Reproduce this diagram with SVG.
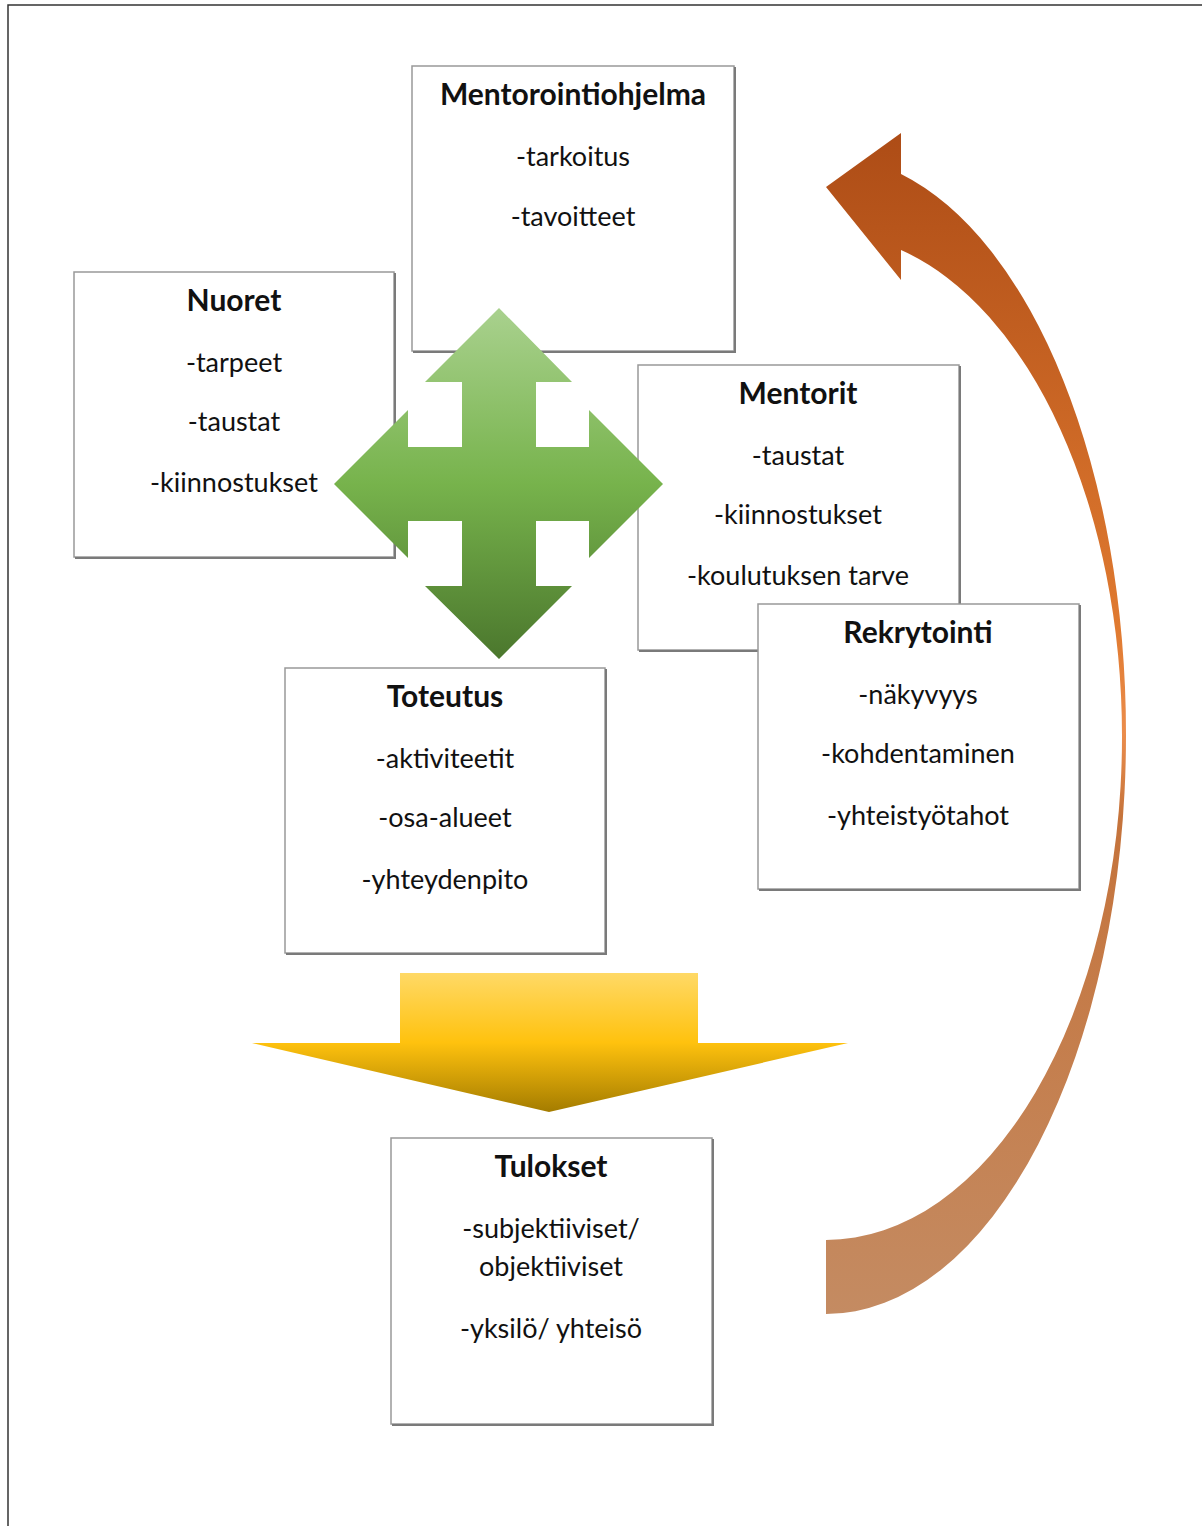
<svg xmlns="http://www.w3.org/2000/svg" width="1202" height="1526" viewBox="0 0 1202 1526">
<defs>
<linearGradient id="gGreen" x1="0" y1="0" x2="0" y2="1">
<stop offset="0" stop-color="#a9d18e"/>
<stop offset="0.5" stop-color="#77b34c"/>
<stop offset="1" stop-color="#4b772d"/>
</linearGradient>
<linearGradient id="gYellow" x1="0" y1="0" x2="0" y2="1">
<stop offset="0" stop-color="#ffd966"/>
<stop offset="0.5" stop-color="#ffc20e"/>
<stop offset="1" stop-color="#a47c00"/>
</linearGradient>
<linearGradient id="gOrange" gradientUnits="userSpaceOnUse" x1="0" y1="130" x2="0" y2="1314">
<stop offset="0" stop-color="#ad4c16"/>
<stop offset="0.42" stop-color="#e07a30"/>
<stop offset="0.51" stop-color="#eb8d4c"/>
<stop offset="0.58" stop-color="#c5733b"/>
<stop offset="1" stop-color="#c48b62"/>
</linearGradient>
</defs>
<style>
.box{fill:#ffffff;stroke:#999999;stroke-width:1.5}
.sh{fill:none;stroke:#7a7a7a;stroke-width:2}
.t{font-family:Lato,"Open Sans","Liberation Sans",sans-serif;font-size:30px;font-weight:bold;fill:#111111;text-anchor:middle}
.b{font-family:Lato,"Open Sans","Liberation Sans",sans-serif;font-size:27px;fill:#111111;text-anchor:middle}
.page{fill:none;stroke:#333333;stroke-width:1.5}
</style>
<polyline class="page" points="8,1526 8,5 1202,5"/>

<g id="mentorointiohjelma">
<rect class="box" x="412" y="66" width="322" height="285"/>
<polyline class="sh" points="735,67 735,352 413,352"/>
<text class="t" x="573" y="105">Mentorointiohjelma</text>
<text class="b" x="573" y="166">-tarkoitus</text>
<text class="b" x="573" y="226">-tavoitteet</text>
</g>

<g id="nuoret">
<rect class="box" x="74" y="272" width="320" height="285"/>
<polyline class="sh" points="395,273 395,558 75,558"/>
<text class="t" x="234" y="311">Nuoret</text>
<text class="b" x="234" y="372">-tarpeet</text>
<text class="b" x="234" y="431">-taustat</text>
<text class="b" x="234" y="492">-kiinnostukset</text>
</g>

<g id="mentorit">
<rect class="box" x="638" y="365" width="321" height="285"/>
<polyline class="sh" points="960,366 960,651 639,651"/>
<text class="t" x="798" y="404">Mentorit</text>
<text class="b" x="798" y="465">-taustat</text>
<text class="b" x="798" y="524">-kiinnostukset</text>
<text class="b" x="798" y="585">-koulutuksen tarve</text>
</g>

<g id="rekrytointi">
<rect class="box" x="758" y="604" width="321" height="285"/>
<polyline class="sh" points="1080,605 1080,890 759,890"/>
<text class="t" x="918" y="643">Rekrytointi</text>
<text class="b" x="918" y="704">-näkyvyys</text>
<text class="b" x="918" y="763">-kohdentaminen</text>
<text class="b" x="918" y="825">-yhteistyötahot</text>
</g>

<g id="toteutus">
<rect class="box" x="285" y="668" width="320" height="285"/>
<polyline class="sh" points="606,669 606,954 286,954"/>
<text class="t" x="445" y="707">Toteutus</text>
<text class="b" x="445" y="768">-aktiviteetit</text>
<text class="b" x="445" y="827">-osa-alueet</text>
<text class="b" x="445" y="889">-yhteydenpito</text>
</g>

<g id="tulokset">
<rect class="box" x="391" y="1138" width="321" height="286"/>
<polyline class="sh" points="713,1139 713,1425 392,1425"/>
<text class="t" x="551" y="1177">Tulokset</text>
<text class="b" x="551" y="1238">-subjektiiviset/</text>
<text class="b" x="551" y="1276">objektiiviset</text>
<text class="b" x="551" y="1338">-yksilö/ yhteisö</text>
</g>

<g id="connectors">
<polygon id="cross" fill="url(#gGreen)" points="499,308 572,382 536,382 536,447 589,447 589,410 663,484 589,558 589,521 536,521 536,586 572,586 499,659 425,586 462,586 462,521 408,521 408,558 334,484 408,410 408,447 462,447 462,382 425,382"/>
<polygon id="down" fill="url(#gYellow)" points="400,973 698,973 698,1043 848,1043 549,1112 252,1043 400,1043"/>
<path id="curved" fill="url(#gOrange)" d="M826,1314 A300,579 0 0 0 1126,735 A300,579 0 0 0 901,174 L901,133 L826,187 L901,280 L901,250 A296,503 0 0 1 1122,737 A296,503 0 0 1 826,1240 Z"/>
</g>
</svg>
